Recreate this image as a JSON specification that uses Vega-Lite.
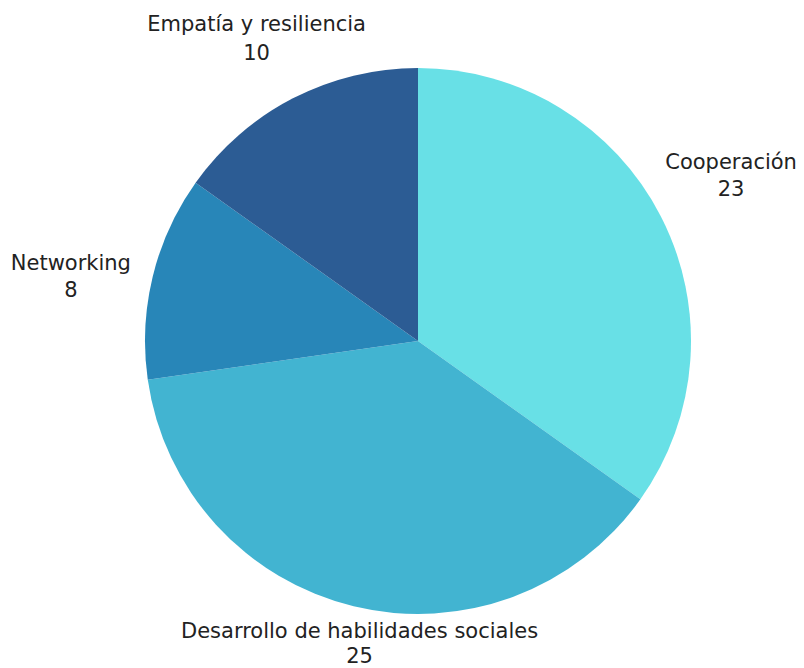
{
  "$schema": "https://vega.github.io/schema/vega-lite/v6.json",
  "width": 772,
  "height": 654,
  "autosize": {"type": "none"},
  "padding": {"left": 32, "top": 14, "right": 0, "bottom": 0},
  "background": "white",
  "config": {"view": {"stroke": null}},
  "data": {
    "values": [
      {"categoria": "Cooperación", "valor": 23, "orden": 1},
      {"categoria": "Desarrollo de habilidades sociales", "valor": 25, "orden": 2},
      {"categoria": "Networking", "valor": 8, "orden": 3},
      {"categoria": "Empatía y resiliencia", "valor": 10, "orden": 4}
    ]
  },
  "transform": [
    {"stack": "valor", "sort": [{"field": "orden", "order": "ascending"}], "groupby": [], "as": ["v0", "v1"]},
    {"calculate": "(datum.v0 + datum.v1) / 2", "as": "vmid"},
    {"calculate": "[datum.categoria, '' + datum.valor]", "as": "etiqueta"}
  ],
  "layer": [
    {
      "mark": {"type": "arc", "outerRadius": 273},
      "encoding": {
        "theta": {"field": "v0", "type": "quantitative", "stack": null, "scale": {"domain": [0, 66], "nice": false}},
        "theta2": {"field": "v1"},
        "color": {
          "field": "categoria",
          "type": "nominal",
          "legend": null,
          "scale": {
            "domain": ["Cooperación", "Desarrollo de habilidades sociales", "Networking", "Empatía y resiliencia"],
            "range": ["#68E0E6", "#42B4D1", "#2886B8", "#2C5C94"]
          }
        }
      }
    },
    {
      "transform": [{"filter": "datum.categoria === 'Cooperación'"}],
      "mark": {"type": "text", "radius": 350, "dx": 2, "dy": -18, "font": "DejaVu Sans", "fontSize": 21, "lineHeight": 27, "color": "#222222", "align": "center", "baseline": "middle"},
      "encoding": {
        "theta": {"field": "vmid", "type": "quantitative", "stack": null},
        "text": {"field": "etiqueta"}
      }
    },
    {
      "transform": [{"filter": "datum.categoria === 'Networking'"}],
      "mark": {"type": "text", "radius": 350, "dx": -7, "dy": 6, "font": "DejaVu Sans", "fontSize": 21, "lineHeight": 27, "color": "#222222", "align": "center", "baseline": "middle"},
      "encoding": {
        "theta": {"field": "vmid", "type": "quantitative", "stack": null},
        "text": {"field": "etiqueta"}
      }
    },
    {
      "transform": [{"filter": "datum.categoria === 'Empatía y resiliencia'"}],
      "mark": {"type": "text", "radius": 350, "dx": -1, "dy": -5, "font": "DejaVu Sans", "fontSize": 21, "lineHeight": 29, "color": "#222222", "align": "center", "baseline": "middle"},
      "encoding": {
        "theta": {"field": "vmid", "type": "quantitative", "stack": null},
        "text": {"field": "etiqueta"}
      }
    },
    {
      "transform": [{"filter": "datum.categoria === 'Desarrollo de habilidades sociales'"}],
      "mark": {"type": "text", "radius": 286, "dx": 9, "dy": 13, "font": "DejaVu Sans", "fontSize": 21, "lineHeight": 25, "color": "#222222", "align": "center", "baseline": "middle"},
      "encoding": {
        "theta": {"field": "vmid", "type": "quantitative", "stack": null},
        "text": {"field": "etiqueta"}
      }
    }
  ]
}
